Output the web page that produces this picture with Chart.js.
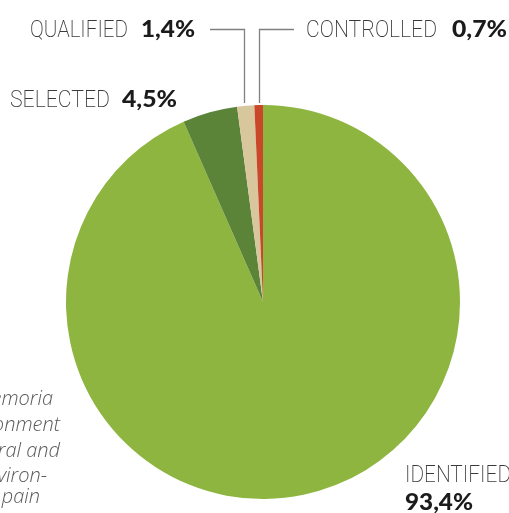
<!DOCTYPE html>
<html>
<head>
<meta charset="utf-8">
<script src="https://cdn.jsdelivr.net/npm/chart.js@4/dist/chart.umd.min.js"></script>
<style>
    html, body { margin: 0; padding: 0; background: #fff; }
    #wrap { width: 509px; height: 513px; }
</style>
</head>
<body>
<div id="wrap"><canvas id="stageChart" width="509" height="513"></canvas></div>
<script>
// Stages and their share of the total (%)
const categories = ['IDENTIFIED', 'SELECTED', 'QUALIFIED', 'CONTROLLED'];
const shares = [93.4, 4.5, 1.4, 0.7];
const sliceColours = ['#8db53f', '#5b8439', '#d8c69d', '#c9482a'];

// Fragment of the body text running in from the left column
const sideText = ['emoria', 'onment', 'ural and', 'viron-', 'pain'];

const fmt = v => v.toFixed(1).replace('.', ',') + '%';

const LIGHT = '200 23px Roboto, "Liberation Sans", sans-serif';
const HEAVY = '900 23px Lato, "DejaVu Sans", sans-serif';

// draw text squeezed/stretched to a given width
function fitText(ctx, text, x, y, w) {
    const natural = ctx.measureText(text).width;
    ctx.save();
    ctx.translate(x, y);
    ctx.scale(w / natural, 1);
    ctx.fillText(text, 0, 0);
    ctx.restore();
}

function drawPair(ctx, name, value, x, y, nameW, valX, valW) {
    ctx.fillStyle = '#3a3a3a';
    ctx.font = LIGHT;
    fitText(ctx, name, x, y, nameW);
    ctx.fillStyle = '#1b1b1b';
    ctx.font = HEAVY;
    fitText(ctx, value, valX, y, valW);
}

const calloutPlugin = {
    id: 'callouts',
    afterDraw(chart) {
        const ctx = chart.ctx;
        const arcs = chart.getDatasetMeta(0).data;
        ctx.save();
        ctx.textBaseline = 'alphabetic';
        ctx.textAlign = 'left';

        // leader lines for the two thin slices at the top
        const midX = i => {
            const a = arcs[i];
            const m = (a.startAngle + a.endAngle) / 2;
            return a.x + a.outerRadius * Math.cos(m);
        };
        ctx.strokeStyle = '#808080';
        ctx.lineWidth = 1.3;
        const qx = Math.round(midX(2)) - 1.5;
        const cx = Math.round(midX(3)) + 0.5;
        ctx.beginPath();
        ctx.moveTo(210, 29.5);
        ctx.lineTo(qx, 29.5);
        ctx.lineTo(qx, 103);
        ctx.moveTo(294, 29.5);
        ctx.lineTo(cx, 29.5);
        ctx.lineTo(cx, 103);
        ctx.stroke();

        drawPair(ctx, categories[2], fmt(shares[2]), 30, 37, 98, 141, 54);
        drawPair(ctx, categories[3], fmt(shares[3]), 306, 37, 131, 452, 55);
        drawPair(ctx, categories[1], fmt(shares[1]), 10, 107, 100, 122, 55);

        // IDENTIFIED sits on two lines at the bottom right
        ctx.fillStyle = '#3a3a3a';
        ctx.font = LIGHT;
        fitText(ctx, categories[0], 405, 482, 106);
        ctx.fillStyle = '#1b1b1b';
        ctx.font = HEAVY;
        fitText(ctx, fmt(shares[0]), 405, 510, 68);

        // italic column text, clipped by the page edge
        ctx.fillStyle = '#5a5a5a';
        ctx.font = 'italic 300 20px "Open Sans", sans-serif';
        ctx.textAlign = 'right';
        const ends = [53, 60, 60, 47, 40];
        const bases = [405, 431, 457, 482, 503];
        sideText.forEach((t, i) => ctx.fillText(t, ends[i], bases[i]));
        ctx.restore();
    }
};

new Chart(document.getElementById('stageChart'), {
    type: 'pie',
    data: {
        labels: categories,
        datasets: [{
            data: shares,
            backgroundColor: sliceColours,
            borderWidth: 0
        }]
    },
    options: {
        responsive: false,
        animation: false,
        layout: {
            padding: { left: 66, right: 49, top: 105, bottom: 14 }
        },
        plugins: {
            legend: { display: false },
            tooltip: { enabled: false }
        }
    },
    plugins: [calloutPlugin]
});
</script>
</body>
</html>
